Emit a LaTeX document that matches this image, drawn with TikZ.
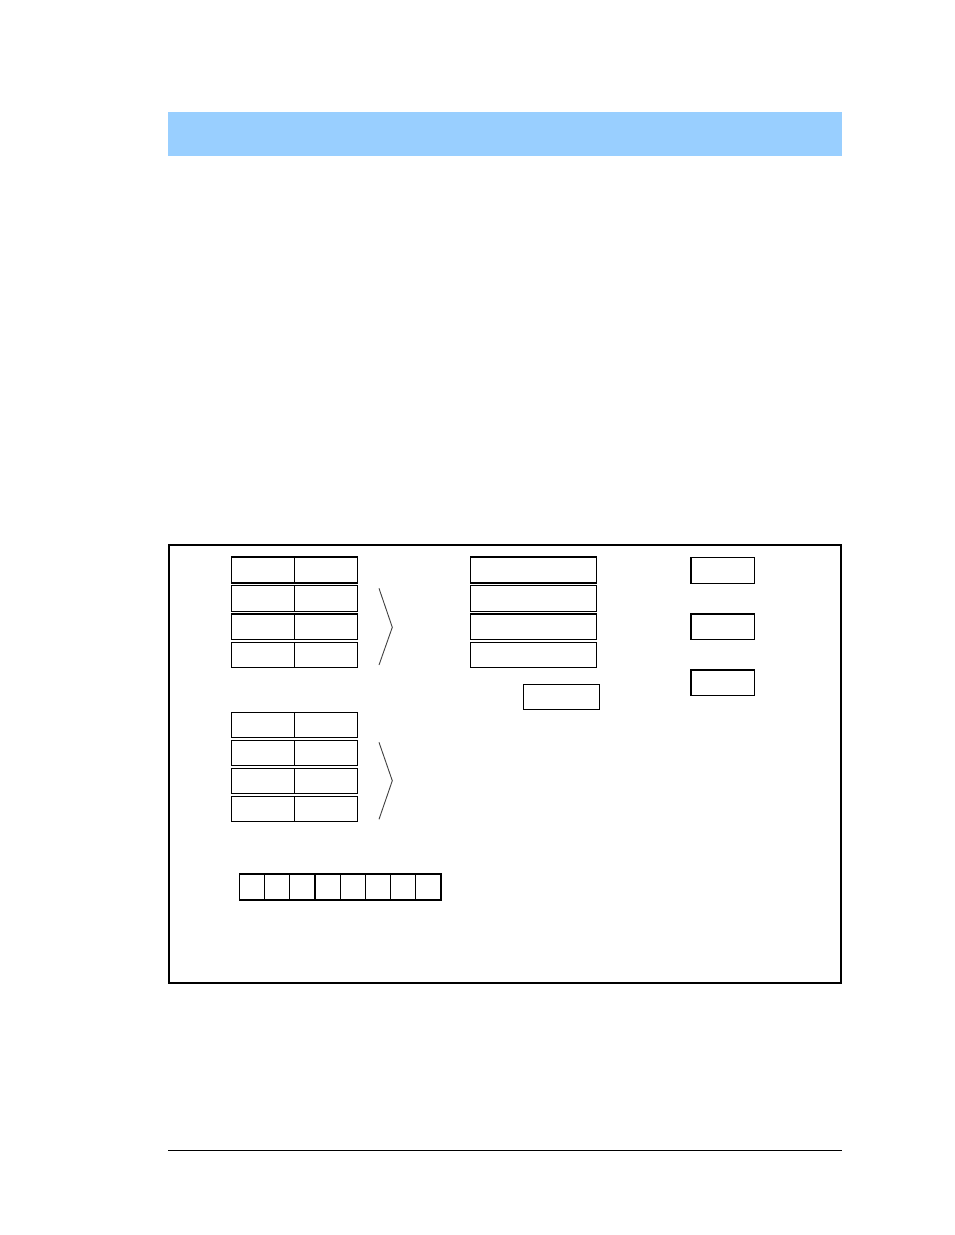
\documentclass[tikz,border=0pt]{standalone}
\usepackage{tikz}
\definecolor{bandblue}{RGB}{153,207,255}
\begin{document}
\begin{tikzpicture}[x=1pt,y=-1pt,
  cellbox/.style={draw=black,line width=1.2pt,inner sep=0pt,outer sep=0pt,anchor=north west},
  framebox/.style={draw=black,line width=2pt},
  chevron/.style={draw=black!75,line width=0.9pt}]
\useasboundingbox (0,0) rectangle (954,1235);
% header band
\fill[bandblue] (168,112) rectangle (842,156);
% frame
\draw[framebox] (168.5,545) rectangle (841,982.5);
% bottom rule
\draw[line width=1pt] (168,1150.3) -- (842,1150.3);
% upper left table
\foreach \i/\t/\h in {1/557/26,2/585.3/26,3/614/25.3,4/642.3/25}{
  \node[cellbox,minimum width=63pt,minimum height=\h pt] (ua\i) at (231.3,\t) {};
  \node[cellbox,minimum width=63pt,minimum height=\h pt] (ub\i) at (294.3,\t) {};
  \node[cellbox,minimum width=126.4pt,minimum height=\h pt] (ur\i) at (470.3,\t) {};
}
% small box under right table
\node[cellbox,minimum width=76pt,minimum height=25pt] (sm) at (523.3,684.3) {};
% right column boxes
\node[cellbox,minimum width=63.3pt,minimum height=26pt] (rc1) at (691,557.3) {};
\node[cellbox,minimum width=63.3pt,minimum height=25.3pt] (rc2) at (691,614) {};
\node[cellbox,minimum width=63.3pt,minimum height=25.3pt] (rc3) at (691,670) {};
% lower left table
\foreach \i/\t in {1/712.3,2/740.3,3/768.3,4/796.3}{
  \node[cellbox,minimum width=63pt,minimum height=25pt] (la\i) at (231.3,\t) {};
  \node[cellbox,minimum width=63pt,minimum height=25pt] (lb\i) at (294.3,\t) {};
}
% chevrons
\coordinate (c1a) at (379,588.3);
\coordinate (c1b) at (392.3,627.3);
\coordinate (c1c) at (379,665);
\draw[chevron] (c1a) -- (c1b) -- (c1c);
\coordinate (c2a) at (379,742.3);
\coordinate (c2b) at (392.3,780.7);
\coordinate (c2c) at (379,819.3);
\draw[chevron] (c2a) -- (c2b) -- (c2c);
% row of eight cells
\foreach \k in {0,...,7}{
  \node[cellbox,minimum width=25.19pt,minimum height=26pt] (bit\k) at ({239.5+25.19*\k},874) {};
}
\end{tikzpicture}
\end{document}
